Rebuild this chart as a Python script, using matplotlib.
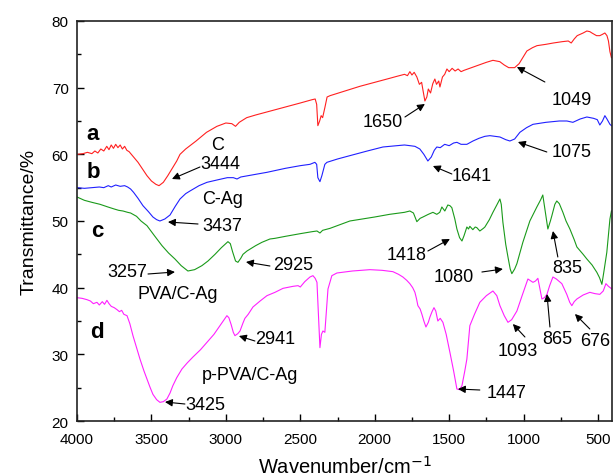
import matplotlib
matplotlib.use("Agg")
import matplotlib.pyplot as plt
from matplotlib.ticker import MultipleLocator

plt.rcParams['font.family'] = ['Liberation Sans', 'DejaVu Sans']

# ---- data ----
wn_a = [4000, 3960, 3930, 3900, 3880, 3860, 3840, 3820, 3800, 3785, 3770, 3755, 3740, 3725, 3710, 3695,
        3680, 3665, 3650, 3620, 3590, 3560, 3530, 3500, 3470, 3449, 3420, 3390, 3360, 3330, 3308, 3270,
        3200, 3130, 3060, 3000, 2960, 2935, 2910, 2860, 2800, 2700, 2600, 2500, 2420, 2400, 2390, 2382,
        2370, 2360, 2350, 2335, 2320, 2300, 2200, 2100, 2000, 1900, 1851, 1800, 1780, 1764, 1750, 1735,
        1717, 1700, 1685, 1675, 1663, 1650, 1640, 1625, 1610, 1596, 1585, 1570, 1562, 1545, 1530, 1515,
        1500, 1480, 1460, 1440, 1420, 1400, 1350, 1300, 1250, 1206, 1160, 1130, 1100, 1060, 1030, 1000,
        978, 940, 910, 850, 800, 740, 700, 680, 660, 640, 600, 575, 555, 541, 510, 488, 470, 454, 440,
        430, 420, 410]
t_a = [60.0, 60.1, 60.3, 60.1, 60.5, 60.2, 60.8, 60.5, 61.2, 60.7, 61.4, 60.9, 61.5, 61.0, 61.4, 60.8,
       61.2, 60.6, 60.4, 59.6, 58.8, 57.8, 56.8, 56.0, 55.5, 55.3, 55.8, 56.8, 57.9, 59.0, 60.0, 60.8,
       62.0, 63.3, 64.2, 64.7, 64.6, 64.2, 64.8, 65.5, 65.9, 66.5, 67.1, 67.7, 68.2, 68.3, 67.5, 64.3,
       65.0, 65.8, 65.5, 67.0, 68.6, 68.8, 69.5, 70.2, 70.8, 71.4, 71.7, 72.0, 71.8, 72.4, 71.9, 72.3,
       71.6, 70.5, 70.8, 69.5, 68.0, 68.6, 69.8, 69.2, 70.6, 71.3, 70.5, 71.0, 70.1, 71.6, 72.0, 72.8,
       72.4, 72.9, 72.5, 72.8, 72.4, 72.6, 73.0, 73.4, 73.8, 74.1, 73.9, 73.4, 73.0, 73.0, 73.6, 74.7,
       75.5, 76.0, 76.3, 76.5, 76.7, 76.9, 77.0, 76.7, 77.3, 77.8, 78.2, 78.5, 78.4, 78.2, 77.8, 77.8,
       78.0, 78.2, 77.8, 77.0, 75.4, 74.5]

wn_b = [4000, 3950, 3900, 3850, 3820, 3790, 3770, 3740, 3710, 3680, 3660, 3640, 3620, 3590, 3557, 3520,
        3490, 3465, 3443, 3410, 3375, 3340, 3308, 3270, 3241, 3180, 3127, 3050, 2990, 2950, 2925, 2900,
        2800, 2724, 2600, 2500, 2435, 2402, 2390, 2382, 2368, 2355, 2335, 2321, 2250, 2167, 2050, 1945,
        1850, 1800, 1764, 1730, 1697, 1670, 1643, 1620, 1600, 1583, 1560, 1530, 1500, 1470, 1448, 1420,
        1381, 1340, 1300, 1260, 1226, 1159, 1120, 1092, 1060, 1025, 980, 937, 850, 760, 709, 669, 620,
        575, 530, 505, 488, 470, 454, 440, 420, 410]
t_b = [55.0, 54.9, 55.0, 55.1, 55.0, 55.3, 55.1, 55.4, 55.2, 55.3, 55.1, 54.8, 54.3, 53.4, 52.3, 51.4,
       50.6, 50.2, 50.0, 50.3, 50.9, 52.2, 53.3, 54.1, 54.5, 55.3, 55.8, 56.2, 56.5, 56.5, 56.3, 56.6,
       57.0, 57.3, 57.9, 58.3, 58.5, 58.8, 58.5, 56.5, 55.9, 56.8, 58.5, 58.8, 59.3, 59.8, 60.5, 61.1,
       61.3, 61.4, 61.3, 61.2, 60.8, 60.0, 59.0, 59.6, 60.6, 61.1, 61.0, 61.5, 61.3, 61.7, 61.8, 61.5,
       61.5, 62.0, 62.4, 62.7, 62.8, 62.6, 62.2, 62.0, 62.3, 63.3, 64.0, 64.5, 64.8, 65.0, 65.0, 64.8, 65.3,
       65.6, 65.4, 65.2, 64.4, 65.0, 65.8, 65.3, 64.5, 64.3]

wn_c = [4000, 3950, 3900, 3845, 3792, 3750, 3720, 3691, 3660, 3640, 3624, 3600, 3570, 3530, 3480, 3429,
        3385, 3342, 3300, 3255, 3210, 3161, 3120, 3073, 3030, 2986, 2970, 2955, 2935, 2919, 2900, 2885,
        2858, 2800, 2758, 2704, 2670, 2600, 2500, 2420, 2388, 2368, 2350, 2300, 2167, 2000, 1900, 1800,
        1764, 1740, 1717, 1695, 1676, 1640, 1609, 1583, 1563, 1549, 1529, 1509, 1495, 1482, 1462, 1448,
        1430, 1414, 1400, 1381, 1370, 1361, 1341, 1325, 1314, 1294, 1270, 1260, 1230, 1206, 1180, 1159,
        1150, 1139, 1120, 1105, 1090, 1079, 1060, 1045, 1005, 958, 911, 885, 871, 857, 837, 820, 810,
        790, 777, 760, 736, 715, 689, 660, 642, 600, 575, 540, 508, 490, 474, 460, 441, 420, 410]
t_c = [53.6, 53.1, 52.8, 52.5, 52.1, 51.8, 51.6, 51.5, 51.3, 51.2, 51.0, 50.7, 50.0, 49.3, 47.8, 46.3,
       45.2, 44.3, 43.3, 42.5, 42.7, 43.3, 44.0, 45.0, 46.0, 46.9, 46.6, 45.4, 44.0, 43.8, 44.4, 45.0,
       45.5, 46.3, 46.8, 47.3, 47.4, 47.7, 48.1, 48.4, 48.5, 48.2, 48.6, 48.9, 50.0, 50.6, 51.0, 51.3,
       51.5, 51.2, 49.9, 50.4, 50.6, 51.0, 51.3, 51.0, 51.3, 52.1, 51.5, 52.4, 52.3, 52.0, 50.3, 48.8,
       47.5, 47.0, 47.8, 49.1, 48.8, 49.2, 48.7, 49.1, 49.0, 48.5, 48.9, 49.1, 50.2, 51.3, 52.4, 53.3,
       52.5, 49.8, 46.5, 44.6, 42.8, 42.1, 42.8, 43.6, 46.8, 50.0, 52.1, 53.2, 53.9, 51.8, 48.8, 50.0, 50.8,
       52.5, 53.0, 52.6, 51.3, 50.0, 48.8, 47.2, 46.1, 45.0, 44.3, 43.4, 42.3, 41.5, 40.5, 42.5, 45.3, 50.3, 51.5]

wn_d = [4000, 3966, 3933, 3910, 3890, 3866, 3850, 3830, 3815, 3799, 3785, 3770, 3750, 3731, 3715, 3700,
        3685, 3664, 3645, 3624, 3600, 3577, 3550, 3530, 3510, 3490, 3465, 3443, 3420, 3396, 3375, 3356,
        3330, 3295, 3260, 3221, 3170, 3127, 3080, 3040, 3010, 2993, 2980, 2965, 2950, 2939, 2920, 2905,
        2885, 2872, 2850, 2818, 2770, 2724, 2670, 2616, 2549, 2515, 2500, 2470, 2435, 2415, 2400, 2388,
        2378, 2368, 2358, 2348, 2335, 2325, 2314, 2288, 2254, 2150, 2032, 1950, 1878, 1840, 1811, 1785,
        1764, 1745, 1730, 1720, 1710, 1695, 1683, 1670, 1656, 1640, 1629, 1615, 1602, 1590, 1576, 1560,
        1542, 1520, 1495, 1470, 1448, 1430, 1414, 1395, 1381, 1361, 1330, 1294, 1250, 1206, 1180, 1159,
        1130, 1105, 1080, 1045, 1010, 971, 950, 937, 920, 904, 890, 877, 860, 843, 825, 803, 780, 743,
        710, 690, 676, 660, 642, 600, 555, 520, 488, 465, 447, 430, 407]
t_d = [38.5, 38.4, 38.2, 38.0, 37.6, 37.8, 37.4, 37.9, 37.5, 38.1, 37.6, 37.2, 37.0, 36.7, 36.4, 36.6,
       36.0, 35.8, 34.6, 32.8, 31.0, 29.3, 27.5, 26.3, 25.1, 24.0, 23.2, 22.8, 22.9, 23.3, 24.2, 25.3,
       26.5, 27.8, 28.7, 29.6, 30.7, 31.8, 33.0, 34.3, 35.3, 35.8, 35.5, 34.5, 33.3, 32.8, 33.1, 33.5,
       34.7, 35.4, 36.0, 37.1, 38.0, 38.8, 39.3, 39.9, 40.2, 40.3, 40.1, 40.9, 41.6, 41.8, 41.4, 40.8,
       36.0, 31.0, 33.0, 33.5, 33.3, 36.5, 39.8, 41.8, 42.2, 42.5, 42.7, 42.6, 42.4, 42.0, 41.6, 41.1,
       40.6, 40.0, 39.3, 38.4, 37.3, 36.8, 36.0, 35.0, 34.1, 34.8, 35.6, 36.4, 37.0, 36.5, 35.0, 35.4,
       34.8, 33.0, 30.3, 27.5, 24.8, 24.7, 25.3, 27.5, 29.3, 34.3, 36.0, 37.8, 38.8, 39.5, 38.8, 37.3,
       35.8, 34.8, 35.2, 36.5, 38.8, 41.3, 41.0, 40.8, 41.0, 41.4, 39.8, 38.3, 38.5, 39.0, 40.3, 41.6,
       41.3, 40.6, 39.0, 37.8, 37.3, 37.9, 38.3, 38.9, 39.3, 39.1, 39.0, 39.5, 40.6, 40.2, 39.8]

series = [(wn_a, t_a, '#ff2020'), (wn_b, t_b, '#2020ff'), (wn_c, t_c, '#1a9a1a'), (wn_d, t_d, '#ff20ff')]

curve_letters = ['a', 'b', 'c', 'd']
letter_pos = [(3893, 63.05), (3893, 57.35), (3866, 48.5), (3866, 33.35)]

sample_names = ['C', 'C-Ag', 'PVA/C-Ag', 'p-PVA/C-Ag']
name_pos = [(3053, 61.4), (3019, 53.3), (3322, 39.05), (2838, 27.05)]

# peak labels: text, text center, arrow tail, arrow head
peak_labels = ['3444', '3437', '3257', '2925', '2941', '3425', '1650', '1049', '1075', '1641',
               '1418', '1080', '835', '1447', '1093', '865', '676']
peak_text = [(3040, 58.55), (3026, 49.25), (3664, 42.35), (2549, 43.4), (2670, 32.3), (3140, 22.55),
             (1945, 64.85), (676, 68.15), (676, 60.35), (1347, 56.75), (1784, 44.9), (1468, 41.6),
             (709, 42.95), (1112, 24.35), (1038, 30.5), (776, 32.3), (521, 32.0)]
peak_tail = [(3174, 58.1), (3187, 49.55), (3523, 42.05), (2704, 43.25), (2805, 32.0), (3275, 22.55),
             (1797, 65.6), (857, 70.85), (844, 60.35), (1482, 57.05), (1643, 45.5), (1280, 42.35),
             (770, 44.6), (1294, 24.65), (991, 32.6), (823, 34.1), (555, 33.8)]
peak_head = [(3362, 56.3), (3389, 49.85), (3342, 42.35), (2865, 43.85), (2912, 32.75), (3409, 22.85),
             (1663, 67.55), (1045, 73.1), (1038, 61.85), (1609, 58.25), (1495, 47.3), (1139, 42.8),
             (803, 48.5), (1441, 24.8), (1072, 34.55), (843, 39.05), (655, 36.05)]

# ---- plot ----
fig = plt.figure(figsize=(6.13, 4.77), dpi=100)
ax = fig.add_axes([0.1256, 0.1153, 0.8728, 0.8386])

for wn, t, col in series:
    ax.plot(wn, t, color=col, lw=0.8)

for s, (x, y) in zip(curve_letters, letter_pos):
    ax.text(x, y, s, fontsize=16, fontweight='bold', ha='center', va='center')
for s, (x, y) in zip(sample_names, name_pos):
    ax.text(x, y, s, fontsize=13, ha='center', va='center')
for s, tp, tl, hd in zip(peak_labels, peak_text, peak_tail, peak_head):
    ax.text(tp[0], tp[1], s, fontsize=13, ha='center', va='center')
    ax.annotate('', xy=hd, xytext=tl,
                arrowprops=dict(arrowstyle='-|>', color='black', lw=0.8,
                                mutation_scale=11, shrinkA=0, shrinkB=0))

ax.set_xlim(4000, 406)
ax.set_ylim(20, 80)
ax.xaxis.set_major_locator(MultipleLocator(500))
ax.xaxis.set_minor_locator(MultipleLocator(250))
ax.yaxis.set_major_locator(MultipleLocator(10))
ax.yaxis.set_minor_locator(MultipleLocator(5))
ax.tick_params(which='both', direction='in', top=False, right=False, labelsize=11)
ax.tick_params(axis='x', which='major', pad=8)
ax.tick_params(axis='y', which='major', pad=6)
ax.tick_params(which='major', length=5, width=1)
ax.tick_params(which='minor', length=3, width=1)
for sp in ax.spines.values():
    sp.set_linewidth(1.2)
    sp.set_color('#222222')

ax.set_xlabel('Wavenumber/cm$^{-1}$', fontsize=14.5, labelpad=6)
ax.set_ylabel('Transmittance/%', fontsize=14, labelpad=10)

fig.savefig('out.png', dpi=100)
